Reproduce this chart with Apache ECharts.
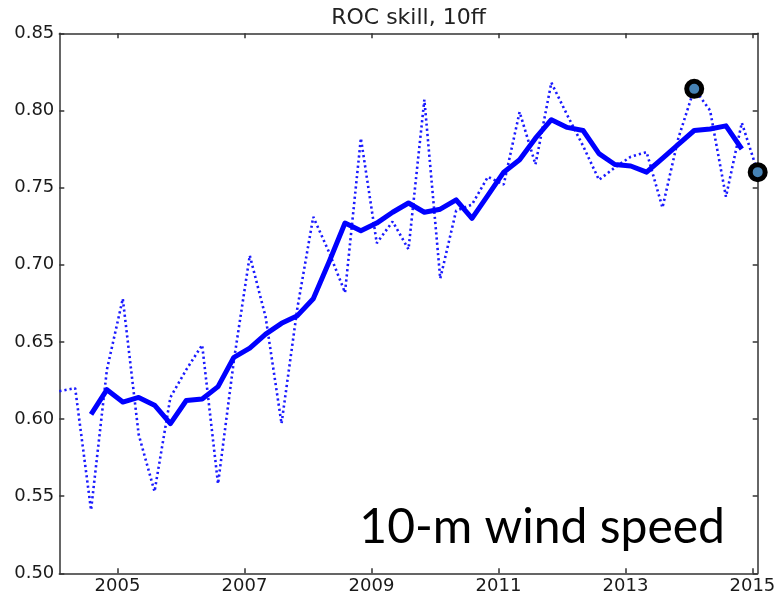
<!DOCTYPE html>
<html>
<head>
<meta charset="utf-8">
<script src="https://cdn.jsdelivr.net/npm/echarts@6/dist/echarts.min.js"></script>
<style>
  html, body { margin: 0; padding: 0; background: #fff; }
  #chart { width: 780px; height: 598px; }
</style>
</head>
<body>
<div id="chart"></div>
<script>
// Seasonal verification periods (year-month of each season's plotted position)
const seasons = [
  '2004-02', '2004-05', '2004-08', '2004-11',
  '2005-02', '2005-05', '2005-08', '2005-11',
  '2006-02', '2006-05', '2006-08', '2006-11',
  '2007-02', '2007-05', '2007-08', '2007-11',
  '2008-02', '2008-05', '2008-08', '2008-11',
  '2009-02', '2009-05', '2009-08', '2009-11',
  '2010-02', '2010-05', '2010-08', '2010-11',
  '2011-02', '2011-05', '2011-08', '2011-11',
  '2012-02', '2012-05', '2012-08', '2012-11',
  '2013-02', '2013-05', '2013-08', '2013-11',
  '2014-02', '2014-05', '2014-08', '2014-11',
  '2015-02'
];

// ROC skill per season (dotted line)
const seasonalSkill = [
  0.618, 0.620, 0.541, 0.632, 0.678, 0.590, 0.553, 0.614, 0.632, 0.648,
  0.558, 0.638, 0.706, 0.666, 0.597, 0.672, 0.731, 0.708, 0.682, 0.782,
  0.714, 0.728, 0.710, 0.807, 0.691, 0.735, 0.739, 0.757, 0.752, 0.799,
  0.765, 0.818, 0.797, 0.777, 0.755, 0.763, 0.770, 0.773, 0.737, 0.782,
  0.814, 0.800, 0.744, 0.792, 0.760
];

// Four-season running mean (solid line); null where the window is incomplete
const runningMean = [
  null, null, 0.603, 0.619, 0.611, 0.614, 0.609, 0.597, 0.612, 0.613,
  0.621, 0.640, 0.646, 0.655, 0.662, 0.667, 0.678, 0.702, 0.727, 0.722,
  0.727, 0.734, 0.740, 0.734, 0.736, 0.742, 0.730, 0.745, 0.760, 0.768,
  0.782, 0.794, 0.789, 0.787, 0.772, 0.765, 0.764, 0.760, 0.769, 0.778,
  0.787, 0.788, 0.790, 0.775, null
];

// Seasons highlighted with a circle
const markedSeasons = ['2014-02', '2015-02'];

// Tick labels
const yearTicks = [2005, 2007, 2009, 2011, 2013, 2015];
const skillTicks = [0.50, 0.55, 0.60, 0.65, 0.70, 0.75, 0.80, 0.85];

const titleText = 'ROC skill, 10ff';
const variableName = '10-m wind speed';

// Convert 'YYYY-MM' to a fractional year
function toYear(s) {
  const parts = s.split('-').map(Number);
  return parts[0] + (parts[1] - 1) / 12;
}

const xs = seasons.map(toYear);
const skillPoints = xs.map((x, i) => [x, seasonalSkill[i]]);
const meanPoints = xs
  .map((x, i) => (runningMean[i] == null ? null : [x, runningMean[i]]))
  .filter(p => p !== null);
const markedPoints = markedSeasons.map(s => {
  const i = seasons.indexOf(s);
  return [xs[i], seasonalSkill[i]];
});

const frameColor = '#333';
const tickFont = { fontFamily: 'DejaVu Sans', fontSize: 18, color: '#1a1a1a' };
const frameLine = { color: frameColor, width: 1.5 };

const grid = { left: 59.3, right: 22.3, top: 33.3, bottom: 24.7 };

const chart = echarts.init(document.getElementById('chart'), null, { renderer: 'canvas' });

function xAxisDef(position, showLabels) {
  return {
    type: 'value',
    position: position,
    min: xs[0],
    max: xs[xs.length - 1],
    axisLine: { show: true, onZero: false, lineStyle: frameLine },
    axisTick: { show: true, inside: true, length: 5, customValues: yearTicks, lineStyle: frameLine },
    axisLabel: Object.assign({
      show: showLabels,
      customValues: yearTicks,
      margin: 4,
      formatter: v => String(Math.round(v))
    }, tickFont),
    splitLine: { show: false }
  };
}

function yAxisDef(position, showLabels) {
  return {
    type: 'value',
    position: position,
    min: skillTicks[0],
    max: skillTicks[skillTicks.length - 1],
    interval: skillTicks[1] - skillTicks[0],
    axisLine: { show: true, onZero: false, lineStyle: frameLine },
    axisTick: { show: true, inside: true, length: 5, lineStyle: frameLine },
    axisLabel: Object.assign({
      show: showLabels,
      margin: 5,
      formatter: v => v.toFixed(2)
    }, tickFont),
    splitLine: { show: false }
  };
}

const plotCenterX = grid.left + (780 - grid.left - grid.right) / 2;

chart.setOption({
  animation: false,
  backgroundColor: '#fff',
  grid: Object.assign({ containLabel: false, outerBoundsMode: 'none' }, grid),
  xAxis: [xAxisDef('bottom', true), xAxisDef('top', false)],
  yAxis: [yAxisDef('left', true), yAxisDef('right', false)],
  series: [
    {
      name: 'seasonal',
      type: 'line',
      xAxisIndex: 0,
      yAxisIndex: 0,
      data: skillPoints,
      showSymbol: false,
      lineStyle: { color: '#1a1aff', width: 2.6, type: [2.2, 3], cap: 'butt' },
      z: 2
    },
    {
      name: 'running mean',
      type: 'line',
      xAxisIndex: 0,
      yAxisIndex: 0,
      data: meanPoints,
      showSymbol: false,
      lineStyle: { color: '#0000ff', width: 5, join: 'round' },
      z: 3
    },
    {
      name: 'marked',
      type: 'scatter',
      xAxisIndex: 0,
      yAxisIndex: 0,
      data: markedPoints,
      symbol: 'circle',
      symbolSize: 15,
      clip: false,
      itemStyle: { color: '#4682b4', borderColor: '#000', borderWidth: 5, opacity: 1 },
      z: 4
    }
  ],
  graphic: [
    {
      type: 'text',
      x: plotCenterX,
      y: 18,
      style: {
        text: titleText,
        font: '22px "DejaVu Sans"',
        fill: '#222',
        align: 'center',
        verticalAlign: 'middle'
      }
    },
    {
      type: 'text',
      x: 725,
      y: 528,
      style: {
        text: variableName,
        font: '48px Lato',
        fill: '#000',
        align: 'right',
        verticalAlign: 'middle'
      }
    }
  ]
});
</script>
</body>
</html>
